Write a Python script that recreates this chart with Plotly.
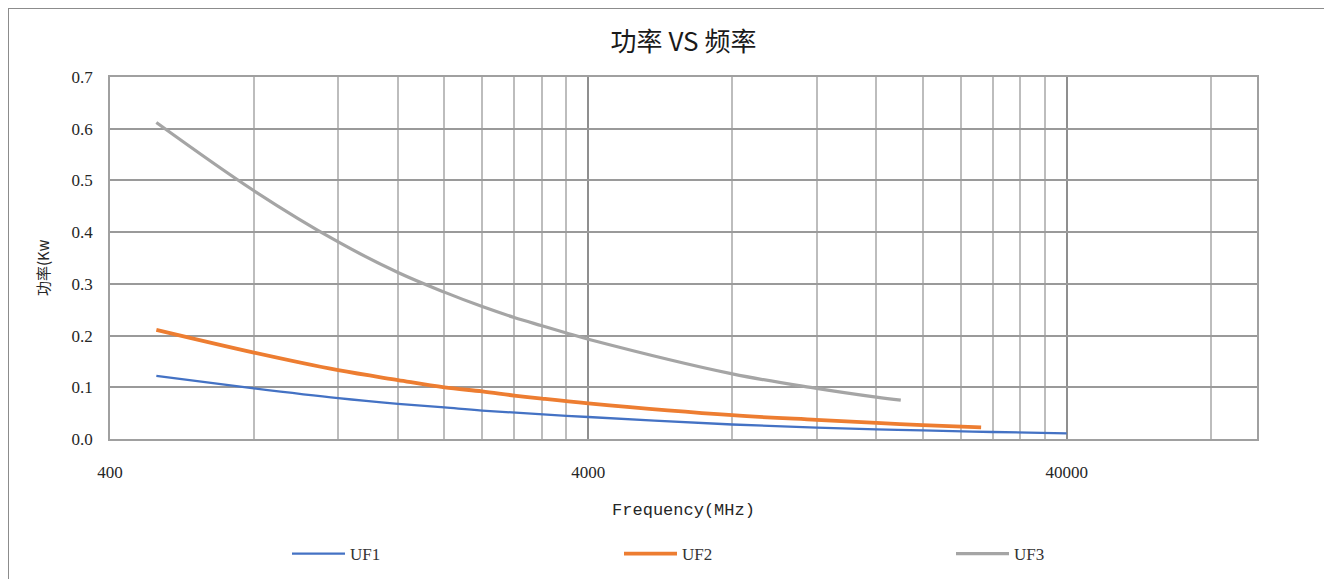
import plotly.graph_objects as go

# ---- data ----
uf1_freq = [500, 800, 1200, 1600, 2000, 2400, 4000, 8000, 12000, 16000, 20000, 28000, 40000]
uf1_pow = [0.122, 0.098, 0.079, 0.068, 0.061, 0.055, 0.0425, 0.028, 0.022, 0.0187, 0.0168, 0.0135, 0.011]

uf2_freq = [500, 800, 1200, 1600, 2000, 2400, 2800, 3200, 4000, 8000, 12000, 16000, 20000, 26500]
uf2_pow = [0.211, 0.167, 0.133, 0.114, 0.100, 0.092, 0.084, 0.078, 0.069, 0.046, 0.037, 0.031, 0.027, 0.0226]

uf3_freq = [500, 800, 1200, 1600, 2000, 2400, 2800, 3200, 3600, 4000, 8000, 12000, 16000, 18000]
uf3_pow = [0.612, 0.48, 0.381, 0.322, 0.284, 0.256, 0.235, 0.219, 0.205, 0.193, 0.126, 0.098, 0.081, 0.075]

x_major_ticks = [400, 4000, 40000]
x_major_labels = ["400", "4000", "40000"]
x_minor_ticks = [800, 1200, 1600, 2000, 2400, 2800, 3200, 3600,
                 8000, 12000, 16000, 20000, 24000, 28000, 32000, 36000, 80000]
y_ticks = [0.0, 0.1, 0.2, 0.3, 0.4, 0.5, 0.6, 0.7]

title_text = "功率 VS 频率"
x_title = "Frequency(MHz)"
y_title = "功率(Kw"

series = [
    ("UF1", uf1_freq, uf1_pow, "#4472C4", 2.3),
    ("UF2", uf2_freq, uf2_pow, "#ED7D31", 3.8),
    ("UF3", uf3_freq, uf3_pow, "#A5A5A5", 3.2),
]

CJK = "Noto Sans CJK SC"
SERIF = "Liberation Serif"

fig = go.Figure()
for name, xs, ys, color, w in series:
    fig.add_trace(go.Scatter(
        x=xs, y=ys, name=name, mode="lines",
        line=dict(color=color, width=w, shape="spline", smoothing=1.0),
        hoverinfo="x+y+name",
    ))

OFF = 8  # page body margin in the browser
W, H = 1332 - OFF, 579 - OFF
L, R, T, B = 110 - OFF, 75, 77 - OFF, 140
pw, ph = W - L - R, H - T - B

def px_x(p):  # p = screenshot pixel
    return (p - OFF - L) / pw

def px_y(p):
    return (H - B - (p - OFF)) / ph

def cont_y(p):
    return (H - (p - OFF)) / H

fig.update_layout(
    width=W, height=H,
    margin=dict(l=L, r=R, t=T, b=B, pad=0, autoexpand=False),
    paper_bgcolor="white", plot_bgcolor="white",
    title=dict(text=title_text, x=0.5, xref="paper", xanchor="center",
               y=1 - (42 - OFF) / H, yanchor="middle",
               font=dict(family=CJK, size=26, color="#1a1a1a")),
    showlegend=True,
    legend=dict(orientation="h", x=px_x(287), xanchor="left",
                yref="container", y=cont_y(554), yanchor="middle",
                itemwidth=53, entrywidthmode="pixels", entrywidth=264,
                font=dict(family=SERIF, size=17, color="#333333"),
                bgcolor="rgba(0,0,0,0)", tracegroupgap=0),
    xaxis=dict(
        type="log", range=[2.60206, 5.0],
        tickvals=x_major_ticks, ticktext=x_major_labels,
        tickfont=dict(family=SERIF, size=17, color="#262626"),
        ticks="", ticklen=0, ticklabelstandoff=17,
        showgrid=True, gridcolor="#8f8f8f", gridwidth=1.5,
        minor=dict(tickvals=x_minor_ticks, showgrid=True,
                   gridcolor="#bdbdbd", gridwidth=1.5, ticks=""),
        showline=True, linecolor="#a0a0a0", linewidth=1.5, mirror=True,
        zeroline=False,
        title=dict(text=x_title, standoff=22,
                   font=dict(family="Liberation Mono", size=17, color="#262626")),
    ),
    yaxis=dict(
        range=[0, 0.7], tickvals=y_ticks, tickformat=".1f",
        tickfont=dict(family=SERIF, size=17, color="#262626"),
        ticks="", ticklen=0, ticklabelstandoff=12,
        showgrid=True, gridcolor="#9a9a9a", gridwidth=1.5,
        showline=True, linecolor="#a0a0a0", linewidth=1.5, mirror=True,
        zeroline=False,
    ),
    annotations=[dict(
        text=y_title, textangle=-90, xref="paper", yref="paper",
        x=px_x(42), y=px_y(268), xanchor="center", yanchor="middle",
        showarrow=False, font=dict(family=CJK, size=15, color="#262626"),
    )],
    shapes=[dict(
        type="rect", xref="paper", yref="paper",
        x0=px_x(8), x1=px_x(1325.5), y0=px_y(580), y1=px_y(8),
        line=dict(color="#8c8c8c", width=2), fillcolor="rgba(0,0,0,0)",
        layer="below",
    )],
)

fig.write_html("out.html")
